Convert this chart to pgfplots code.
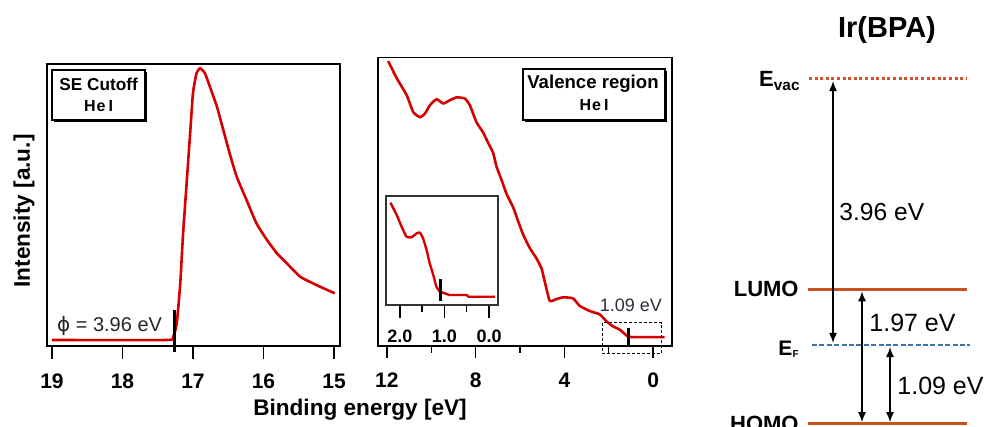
\documentclass[border=0pt]{standalone}
\usepackage{pgfplots}
\pgfplotsset{compat=1.18}
\usepackage{fontspec}
\setmainfont{Liberation Sans}
\newfontfamily\dejavu{DejaVu Sans}
\usetikzlibrary{arrows.meta}
\definecolor{curve}{RGB}{214,0,0}
\definecolor{lvl}{RGB}{200,82,30}
\definecolor{vac}{RGB}{205,85,45}
\definecolor{ef}{RGB}{60,115,165}
\definecolor{txt}{RGB}{45,45,60}
\begin{document}
\begin{tikzpicture}
\pgfplotsset{
  panel/.style={scale only axis, anchor=south west, clip=false, ytick=\empty,
    x dir=reverse, tick align=outside, xtick pos=bottom,
    axis line style={line width=0.7pt, black},
    every tick/.style={black, line width=0.7pt},
    /pgf/number format/assume math mode=true},
}
% ---------- Panel 1: SE cutoff ----------
\begin{axis}[panel, at={(23.5pt,40.5pt)}, width=146.5pt, height=141pt,
  xmin=14.915, xmax=19.07, ymin=0, ymax=282,
  xtick={15,16,17,18,19}, major tick length=6.5pt,
  xticklabel style={font=\fontsize{10.5}{12}\selectfont\bfseries, anchor=north, yshift=-4pt}]
\addplot[curve, line width=1.3pt, line join=round, smooth, tension=0.3] coordinates {
(19.0,6) (17.37,6) (17.28,9.3) (17.23,22.7) (17.18,62.7) (17.14,112.7)
(17.09,162.7) (17.04,212.7) (17.00,252.7) (16.95,272.7) (16.90,277.7)
(16.83,272.7) (16.76,259.3) (16.66,239.3) (16.57,216) (16.48,192.7)
(16.38,169.3) (16.24,146) (16.10,122.7) (15.95,106) (15.81,92.7)
(15.67,82.7) (15.48,69.3) (15.25,61) (14.99,52.7)};
\addplot[black, line width=1.5pt] coordinates {(17.26,36) (17.26,-6)};
\end{axis}
% ---------- Panel 2: valence region ----------
\begin{axis}[panel, at={(189pt,40.5pt)}, width=147pt, height=141.5pt,
  xmin=-0.85, xmax=12.4, ymin=0, ymax=283,
  xtick={0,4,8,12}, minor xtick={2,6,10},
  major tick length=6pt, minor tick length=3.5pt,
  xticklabel style={font=\fontsize{10.5}{12}\selectfont\bfseries, anchor=north, yshift=-4pt}]
\addplot[curve, line width=1.3pt, line join=round, smooth, tension=0.3] coordinates {
(11.94,279.3) (11.56,262.7) (11.11,246) (10.81,229.3) (10.51,224.3)
(10.29,227.7) (10.06,236) (9.76,242) (9.46,237.7) (9.16,241) (8.86,243.7)
(8.49,242.7) (8.26,236) (7.96,219.3) (7.66,209.3) (7.44,199.3) (7.21,189.3)
(7.06,176) (6.83,162.7) (6.61,149.3) (6.31,136) (6.09,122.7) (5.86,109.3)
(5.56,96) (5.26,86) (5.03,76) (4.88,62.7) (4.66,44.3) (4.36,46) (4.06,47.7)
(3.61,46.7) (3.31,39.3) (2.86,34.3) (2.41,31) (2.11,24.3) (1.81,19.3)
(1.50,16) (1.13,9.3) (0.75,8.7) (-0.52,8.7)};
\addplot[black, line width=1.5pt] coordinates {(1.12,18) (1.12,1)};
\draw[black, line width=0.5pt, dash pattern=on 1.5pt off 1pt]
  (axis cs:2.27,23) rectangle (axis cs:-0.39,-7);
\node[font=\fontsize{9}{10}\selectfont, text=txt] at (axis cs:1.0,40) {1.09 eV};
\end{axis}
% ---------- Inset ----------
\begin{axis}[panel, at={(193pt,61pt)}, width=56pt, height=54.5pt,
  xmin=-0.2, xmax=2.31, ymin=0, ymax=109,
  xtick={0,1,2}, xticklabels={0.0,1.0,2.0}, minor xtick={0.5,1.5},
  major tick length=6.3pt, minor tick length=3.3pt,
  axis line style={line width=0.6pt, black!80},
  xticklabel style={font=\fontsize{9}{10}\selectfont\bfseries, anchor=north, yshift=-2.5pt}]
\addplot[curve, line width=1.2pt, line join=round, smooth, tension=0.3] coordinates {
(2.21,102.3) (2.07,90) (1.96,78.3) (1.85,68.3) (1.74,67.7) (1.62,71.7)
(1.55,72.3) (1.48,66.7) (1.40,55) (1.33,41.7) (1.25,30) (1.18,18.3)
(1.10,13.3) (0.99,11.7) (0.88,10) (0.50,10) (0.46,8.3) (-0.13,8.3)};
\addplot[black, line width=1.5pt] coordinates {(1.09,26) (1.09,4.3)};
\end{axis}
% ---------- legend boxes ----------
\fill[black] (27pt,152.5pt) rectangle (73.5pt,177.5pt);
\draw[black, line width=0.6pt, fill=white] (26pt,153.5pt) rectangle (72.5pt,178.5pt);
\node[font=\fontsize{8.6}{10}\selectfont\bfseries] at (49.3pt,171.3pt) {SE Cutoff};
\node[font=\fontsize{8}{10}\selectfont\bfseries] at (49.3pt,160.5pt) {H\kern0.5pt e\kern1.5pt I};
\fill[black] (262.5pt,152.5pt) rectangle (333.5pt,178pt);
\draw[black, line width=0.6pt, fill=white] (261.5pt,153.5pt) rectangle (332.5pt,179pt);
\node[font=\fontsize{9.3}{10}\selectfont\bfseries] at (296.5pt,171.8pt) {Valence region};
\node[font=\fontsize{8}{10}\selectfont\bfseries] at (297pt,160.8pt) {H\kern0.5pt e\kern1.5pt I};
\node[anchor=west, font=\fontsize{10}{12}\selectfont, text=black!85] at (25pt,50.5pt) {{\dejavu ϕ} = 3.96 eV};
% axis labels
\node[font=\fontsize{11.3}{13}\selectfont\bfseries] at (180pt,8.5pt) {Binding energy [eV]};
\node[rotate=90, font=\fontsize{11.3}{13}\selectfont\bfseries] at (12pt,108pt) {Intensity [a.u.]};
% ---------- Energy diagram ----------
\begin{axis}[at={(400pt,0pt)}, anchor=south west, scale only axis, width=92pt, height=213.5pt,
  xmin=800, xmax=984, ymin=-1.2208, ymax=5.1362, hide axis, clip=false]
\addplot[vac, line width=1.5pt, dash pattern=on 1.5pt off 1.3pt] coordinates {(809,3.96) (967,3.96)};
\addplot[lvl, line width=1.5pt] coordinates {(808,0.83) (967,0.83)};
\addplot[ef, line width=0.7pt, dash pattern=on 2.5pt off 1.2pt] coordinates {(812,0) (970,0)};
\addplot[lvl, line width=1.5pt] coordinates {(808,-1.176) (967,-1.176)};
\addplot[black, line width=0.75pt, {Latex[length=5pt,width=4pt]}-{Latex[length=5pt,width=4pt]}] coordinates {(833,3.93) (833,0.03)};
\addplot[black, line width=0.75pt, {Latex[length=5pt,width=4pt]}-{Latex[length=5pt,width=4pt]}] coordinates {(862,0.80) (862,-1.15)};
\addplot[black, line width=0.75pt, {Latex[length=5pt,width=4pt]}-{Latex[length=5pt,width=4pt]}] coordinates {(890,-0.03) (890,-1.15)};
\node[font=\fontsize{14.5}{16}\selectfont\bfseries] at (axis cs:887,4.69) {Ir(BPA)};
\node[anchor=east, font=\fontsize{11}{13}\selectfont\bfseries, inner sep=1pt] at (axis cs:803,3.93) {E\textsubscript{vac}};
\node[anchor=east, font=\fontsize{11}{13}\selectfont\bfseries, inner sep=1pt] at (axis cs:801,0.83) {LUMO};
\node[anchor=east, font=\fontsize{10.5}{12}\selectfont\bfseries, inner sep=1pt] at (axis cs:801,-0.07) {E\raisebox{-1pt}{\fontsize{5}{6}\selectfont F}};
\node[anchor=east, font=\fontsize{11}{13}\selectfont\bfseries, inner sep=1pt] at (axis cs:801,-1.18) {HOMO};
\node[anchor=west, font=\fontsize{12.3}{14}\selectfont, inner sep=1pt] at (axis cs:837,1.98) {3.96 eV};
\node[anchor=west, font=\fontsize{12.5}{14}\selectfont, inner sep=1pt] at (axis cs:867,0.33) {1.97 eV};
\node[anchor=west, font=\fontsize{12.5}{14}\selectfont, inner sep=1pt] at (axis cs:895,-0.61) {1.09 eV};
\end{axis}
\pgfresetboundingbox
\path[use as bounding box] (0,0) rectangle (492pt,213.5pt);
\end{tikzpicture}
\end{document}
